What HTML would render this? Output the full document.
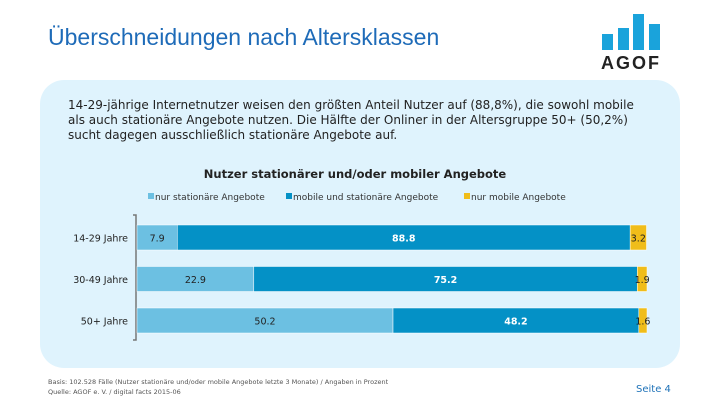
<!DOCTYPE html>
<html><head><meta charset="utf-8"><style>
body{margin:0;width:720px;height:405px;background:#fff;font-family:"DejaVu Sans","Liberation Sans",sans-serif;position:relative;overflow:hidden}
.abs{position:absolute}
</style></head><body>
<div class="abs" style="left:48px;top:24px;font-family:'Liberation Sans',sans-serif;font-size:23px;color:#1e6bb8;">Überschneidungen nach Altersklassen</div>
<svg class="abs" style="left:595px;top:10px" width="75" height="62">
<rect x="7" y="24" width="11" height="16" fill="#1aa3db"/><rect x="23" y="18" width="11" height="22" fill="#1aa3db"/><rect x="38" y="4" width="11" height="36" fill="#1aa3db"/><rect x="54" y="14" width="11" height="26" fill="#1aa3db"/>
<text x="36" y="59" text-anchor="middle" font-family="Liberation Sans" font-weight="bold" font-size="18" letter-spacing="2" fill="#222">AGOF</text></svg>
<div class="abs" style="left:40px;top:80px;width:640px;height:288px;background:#dff3fd;border-radius:24px"></div>
<div class="abs" style="left:68px;top:98px;width:585px;font-size:12px;line-height:15px;color:#222">14-29-jährige Internetnutzer weisen den größten Anteil Nutzer auf (88,8%), die sowohl mobile als auch stationäre Angebote nutzen. Die Hälfte der Onliner in der Altersgruppe 50+ (50,2%)<br>sucht dagegen ausschließlich stationäre Angebote auf.</div>
<svg id="chart" class="abs" style="left:0;top:0;font-family:'DejaVu Sans',sans-serif" width="720" height="405"></svg>
<div class="abs" style="left:48px;top:377px;font-size:6.5px;line-height:10px;color:#555">Basis: 102.528 Fälle (Nutzer stationäre und/oder mobile Angebote letzte 3 Monate) / Angaben in Prozent<br>Quelle: AGOF e. V. / digital facts 2015-06</div>
<div class="abs" style="left:636px;top:384px;font-size:10px;color:#1e72b8">Seite 4</div>
<script>
const categories=["14-29 Jahre","30-49 Jahre","50+ Jahre"];
const seriesNames=["nur stationäre Angebote","mobile und stationäre Angebote","nur mobile Angebote"];
const stationaer=[7.9,22.9,50.2];
const beides=[88.8,75.2,48.2];
const mobil=[3.2,1.9,1.6];
const colors=["#6cc0e2","#0491c6","#f0bd1a"];
const textCol=["#222","#fff","#222"];
const NS="http://www.w3.org/2000/svg";
const svg=document.getElementById('chart');
const x0=137,plotW=510,rowTop=225,rowStep=41.5,barH=25;
const xs=v=>v/100*plotW;
const ys=i=>rowTop+i*rowStep;
function mk(t,a){const e=document.createElementNS(NS,t);for(const k in a)e.setAttribute(k,a[k]);svg.appendChild(e);return e;}
let t=mk('text',{x:355,y:178,'text-anchor':'middle','font-size':11.5,'font-weight':'bold',fill:'#222'});t.textContent="Nutzer stationärer und/oder mobiler Angebote";


const lx=[148,286,464];
seriesNames.forEach((n,i)=>{
 const r=mk('rect',{x:lx[i],y:193,width:6,height:6,fill:colors[i]});
 
 
 const tx=mk('text',{x:lx[i]+7,y:200,'font-size':9,fill:'#333'});tx.textContent=n;
 
 
});
const ax=mk('path',{d:`M133 215H136V340H133`,stroke:'#777','stroke-width':1.5,fill:'none'});


const series=[stationaer,beides,mobil];
categories.forEach((c,i)=>{
 const y=ys(i);
 const lb=mk('text',{x:128,y:y+barH/2+4,'text-anchor':'end','font-size':9.5,fill:'#222'});lb.textContent=c;
 
 
 let cx=x0;
 series.forEach((s,j)=>{
  const w=xs(s[i]);
  const r=mk('rect',{x:cx,y:y,width:w,height:barH,fill:colors[j],stroke:'#fff','stroke-width':0.5});
  
  
  const v=mk('text',{x:cx+w/2,y:y+barH/2+4,'text-anchor':'middle','font-size':9.5,'font-weight':j==1?'bold':'normal',fill:textCol[j]});
  v.textContent=s[i].toFixed(1);
  
  
  cx+=w;
 });
});
</script>
</body></html>
